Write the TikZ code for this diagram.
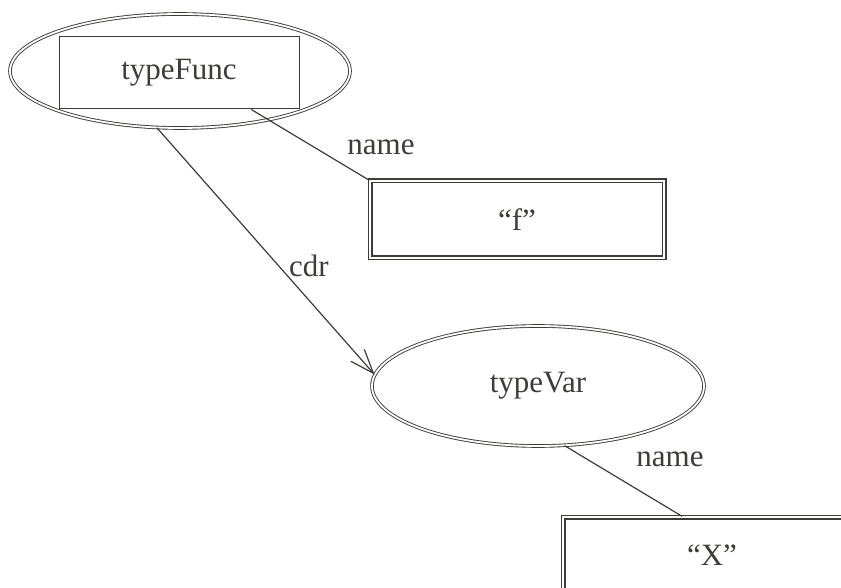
\documentclass[tikz,border=0pt]{standalone}
\usepackage{fontspec}
\setmainfont{Liberation Serif}
\usepackage{tikz}
\usetikzlibrary{shapes.geometric,arrows.meta,calc}
\definecolor{inkgrey}{RGB}{60,60,56}

\begin{document}
\begin{tikzpicture}[x=0.5pt, y=-0.5pt,
    ell/.style={ellipse, draw=inkgrey, double, double distance=0.9pt, line width=0.45pt,
                inner sep=0pt, font=\fontsize{15.5}{18}\selectfont, text=inkgrey},
    dbox/.style={rectangle, draw=inkgrey, double, double distance=1.1pt, line width=0.7pt,
                 inner sep=0pt, minimum width=147pt, minimum height=38.5pt,
                 font=\fontsize{15.5}{18}\selectfont, text=inkgrey},
    lbl/.style={font=\fontsize{15.5}{18}\selectfont, text=inkgrey, inner sep=0pt},
    link/.style={draw=inkgrey, line width=0.6pt}]
\useasboundingbox (0,0) rectangle (841,588);
% the two records and their fields
\node[ell, minimum width=170pt, minimum height=57pt] (tfunc) at (180,71) {};
\node[rectangle, draw=inkgrey, line width=0.5pt, minimum width=120pt, minimum height=36pt,
      inner sep=0pt, font=\fontsize{15.5}{18}\selectfont, text=inkgrey] (tfuncbox) at (179,73) {typeFunc};
\node[dbox] (fbox) at (517,219.5) {``f''};
\node[ell, minimum width=166pt, minimum height=60pt] (tvar) at (538,386) {typeVar};
\node[dbox, minimum width=149pt] (xbox) at (712,555.5) {``X''};
% edges
\draw[link] ($(tfuncbox.south west)!0.8!(tfuncbox.south east)$) -- (fbox.north west);
\draw[link, -{Straight Barb[length=12pt, width=9pt]}] (tfunc.248) -- (tvar.176);
\draw[link] (tvar.294) -- ($(xbox.north west)!0.4!(xbox.north east)$);
% edge labels
\node[lbl] (lname1) at (381,147) {name};
\node[lbl] (lcdr) at (309,266) {cdr};
\node[lbl] (lname2) at (670,459) {name};
\end{tikzpicture}
\end{document}
